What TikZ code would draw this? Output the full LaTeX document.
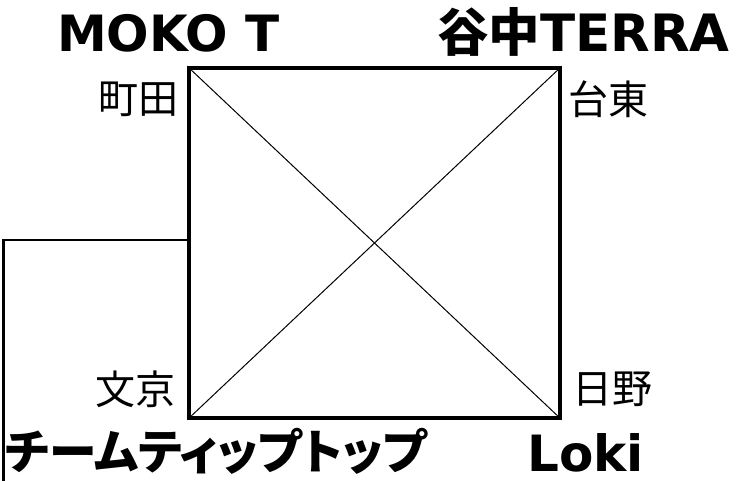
\documentclass[tikz,border=0pt]{standalone}
\usepackage{fontspec}
\setmainfont{DejaVu Sans}
\newfontfamily\jp{Noto Sans CJK JP}
\newfontfamily\jpp[RawFeature=+palt]{Noto Sans CJK JP}
\begin{document}
\begin{tikzpicture}[x=1pt,y=-1pt,
  lbl/.style={inner sep=0pt, font=\jp\fontsize{40}{40}\selectfont},
  big/.style={inner sep=0pt, font=\bfseries\fontsize{50}{50}\selectfont},
  box/.style={draw, line width=3.5pt, minimum width=371pt, minimum height=350pt, inner sep=0pt},
  thin/.style={line width=1pt},
  conn/.style={line width=2.5pt}]
\useasboundingbox (0,0) rectangle (753,481);
\node[box] (sq) at (374.5,243) {};
\draw[thin] (sq.north west) -- (sq.south east);
\draw[thin] (sq.north east) -- (sq.south west);
\coordinate (c1) at (3.5,240);
\coordinate (c2) at (3.5,485);
\draw[conn] (sq.west |- c1) -- (c1) -- (c2);
\node[big, anchor=base west] (moko) at (57,52) {MOKO T};
\node[big, anchor=base west, font=\bfseries\fontsize{51.5}{52}\selectfont] (yanaka) at (437,52) {{\jp\bfseries 谷中}TERRA};
\node[lbl] (machida) at (138,99) {町田};
\node[lbl] (taito) at (608,99) {台東};
\node[lbl] (bunkyo) at (135,389) {文京};
\node[lbl] (hino) at (612,389) {日野};
\node[big, font=\jpp\bfseries\fontsize{47.7}{48}\selectfont] (team) at (216,451) {チームティップトップ};
\node[big, anchor=base west] (loki) at (527,471) {Loki};
\end{tikzpicture}
\end{document}
